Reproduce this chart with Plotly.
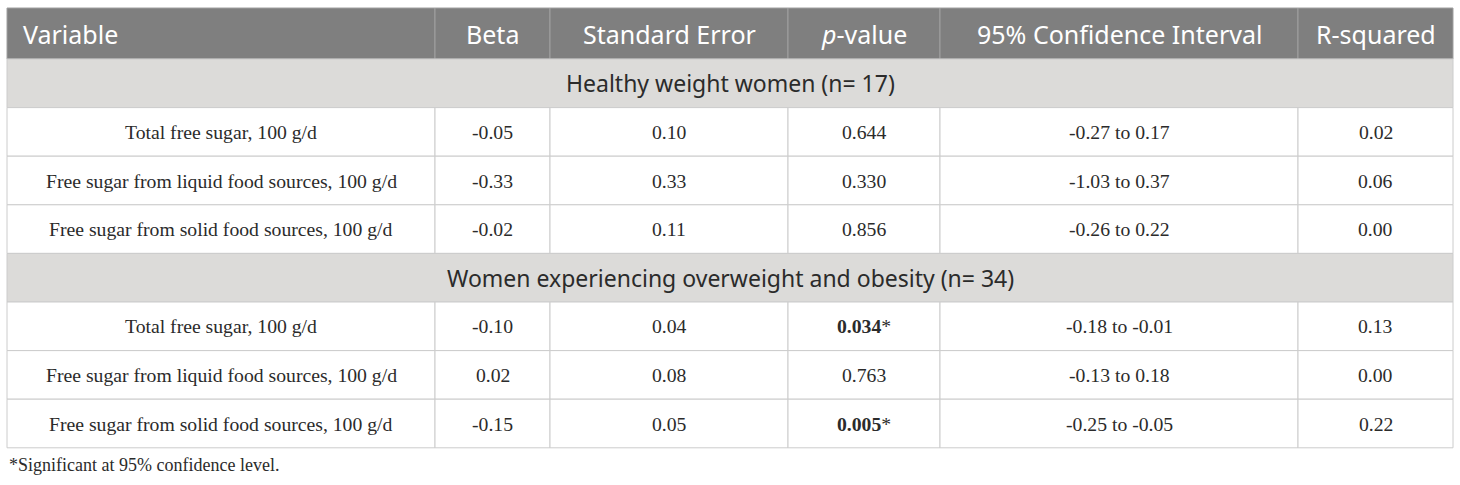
"""
Regression table: free sugar vs outcome, by weight group
"""

import plotly.graph_objects as go

#> Table content
columns = ['Variable', 'Beta', 'Standard Error', '<i>p</i>-value',
           '95% Confidence Interval', 'R-squared']
groups = ['Healthy weight women (n= 17)',
          'Women experiencing overweight and obesity (n= 34)']
variables = ['Total free sugar, 100 g/d',
             'Free sugar from liquid food sources, 100 g/d',
             'Free sugar from solid food sources, 100 g/d']

beta = [['-0.05', '-0.33', '-0.02'], ['-0.10', '0.02', '-0.15']]
std_err = [['0.10', '0.33', '0.11'], ['0.04', '0.08', '0.05']]
p_value = [['0.644', '0.330', '0.856'], ['0.034', '0.763', '0.005']]
significant = [[False, False, False], [True, False, True]]
conf_int = [['-0.27 to 0.17', '-1.03 to 0.37', '-0.26 to 0.22'],
            ['-0.18 to -0.01', '-0.13 to 0.18', '-0.25 to -0.05']]
r_squared = [['0.02', '0.06', '0.00'], ['0.13', '0.00', '0.22']]
footnote = '*Significant at 95% confidence level.'

#> Layout (pixels)
W, H = 1460, 485
col_edges = [7, 435, 550, 788, 940, 1298, 1453]
top = 8
head_h = 51
row_h = 48.6
grid = '#cccccc'
head_bg = '#7f7f7f'
group_bg = '#dcdbd9'
sans = 'Noto Sans'
serif = 'Liberation Serif'
txt = '#2b2b2b'

fig = go.Figure()
shapes = []
annots = []


def rect(x0, y0, x1, y1, fill, line=grid):
    shapes.append(dict(type='rect', xref='x', yref='y', x0=x0, x1=x1,
                       y0=y0, y1=y1, fillcolor=fill,
                       line=dict(color=line, width=1), layer='below'))


def label(x, y, text, font, size, color, anchor='center'):
    annots.append(dict(x=x, y=y, xref='x', yref='y', text=text,
                       showarrow=False, xanchor=anchor, yanchor='middle',
                       font=dict(family=font, size=size, color=color)))


#> Header
for i, c in enumerate(columns):
    x0, x1 = col_edges[i], col_edges[i + 1]
    rect(x0, top, x1, top + head_h, head_bg, line='#a0a0a0')
    if i == 0:
        label(x0 + 14, top + head_h / 2, c, sans, 25, 'white', 'left')
    else:
        label((x0 + x1) / 2, top + head_h / 2, c, sans, 25, 'white')

#> Body
y = top + head_h
for g, gname in enumerate(groups):
    rect(col_edges[0], y, col_edges[-1], y + row_h, group_bg)
    label((col_edges[0] + col_edges[-1]) / 2, y + row_h / 2, gname,
          sans, 23, txt)
    y += row_h
    for r, var in enumerate(variables):
        pv = p_value[g][r]
        if significant[g][r]:
            pv = '<b>' + pv + '</b>*'
        cells = [var, beta[g][r], std_err[g][r], pv,
                 conf_int[g][r], r_squared[g][r]]
        for i, val in enumerate(cells):
            x0, x1 = col_edges[i], col_edges[i + 1]
            rect(x0, y, x1, y + row_h, 'white')
            label((x0 + x1) / 2, y + row_h / 2, val, serif, 19.7, txt)
        y += row_h

#> Footnote
label(col_edges[0], y + 17, footnote, serif, 18, txt, 'left')

fig.update_layout(
    width=W, height=H,
    margin=dict(l=0, r=0, t=0, b=0),
    paper_bgcolor='white', plot_bgcolor='white',
    shapes=shapes, annotations=annots,
    xaxis=dict(range=[0, W], visible=False, fixedrange=True),
    yaxis=dict(range=[H, 0], visible=False, fixedrange=True),
    showlegend=False,
)

# drop the page's default body margin so the table sits at 0,0
fig.write_html('out.html', config={'displayModeBar': False},
               post_script="document.body.style.margin='0';")
